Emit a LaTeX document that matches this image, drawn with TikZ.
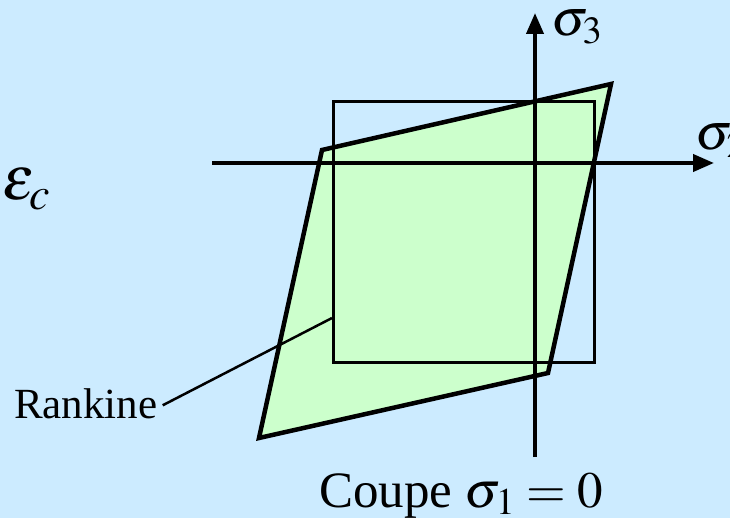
\documentclass[tikz,border=0pt]{standalone}
\usepackage{mathptmx}
\usepackage{fontspec}
\setmainfont{Liberation Serif}
\usetikzlibrary{arrows.meta}
\definecolor{bgblue}{HTML}{CCEBFF}
\definecolor{lgreen}{HTML}{CCFFCC}
\tikzset{
  axis/.style={line width=4pt,-{Triangle[length=21pt,width=17pt]}},
  crit/.style={line width=4.5pt,line join=miter,fill=lgreen},
  sq/.style={line width=3pt},
  lbl/.style={inner sep=0pt,font=\fontsize{52}{58}\selectfont},
}
\begin{document}
\begin{tikzpicture}[x=1pt,y=-1pt]
\useasboundingbox (0,0) rectangle (730,518);
\clip (0,0) rectangle (730,518);
\fill[bgblue] (0,0) rectangle (730,518);
% Rankine-like polygon
\coordinate (p1) at (322,150);
\coordinate (p2) at (611,84);
\coordinate (p3) at (548,373);
\coordinate (p4) at (259,438);
\draw[crit] (p1) -- (p2) -- (p3) -- (p4) -- cycle;
% square
\coordinate (s1) at (333,102);
\coordinate (s2) at (594,362);
\draw[sq] (s1) rectangle (s2);
% axes
\coordinate (h0) at (212,163);
\coordinate (h1) at (714,163);
\coordinate (v0) at (535,457);
\coordinate (v1) at (535,13);
\draw[axis] (h0) -- (h1);
\draw[axis] (v0) -- (v1);
% labels
\node[lbl,anchor=base west] (s3) at (551,36) {$\sigma_3$};
\node[lbl,anchor=base west] (s2l) at (695,150) {$\sigma_2$};
\node[lbl,anchor=base west,font=\fontsize{62}{68}\selectfont] (eps) at (2,200) {$\varepsilon_c$};
\node[lbl,anchor=base west,font=\fontsize{43}{48}\selectfont] (rk) at (14,418) {Rankine};
\coordinate (rkend) at (332,318);
\draw[line width=2.5pt] (rk.east) ++(5pt,-2pt) coordinate (rkstart) -- (rkend);
\node[lbl,anchor=base,font=\fontsize{51}{57}\selectfont] (cap) at (461,507) {Coupe $\sigma_1=0$};
\end{tikzpicture}
\end{document}
